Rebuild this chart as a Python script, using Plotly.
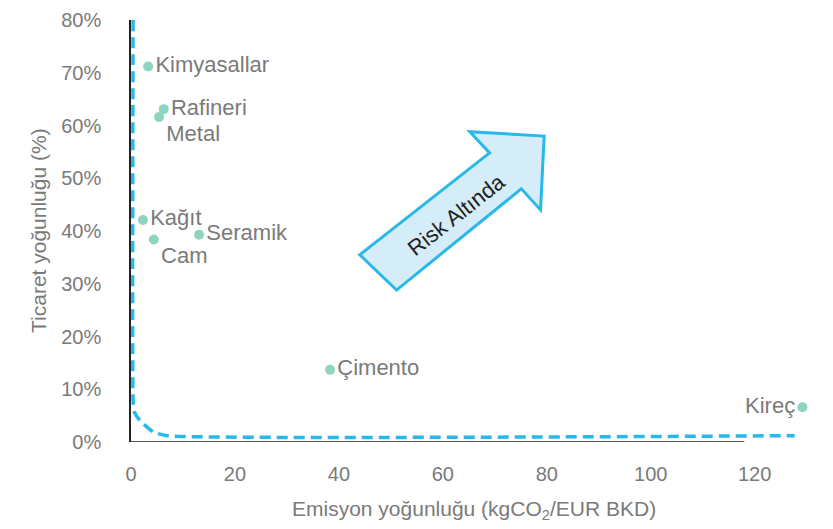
import plotly.graph_objects as go

# ---- data ----
sectors = ["Kimyasallar", "Rafineri", "Metal", "Kağıt", "Cam", "Seramik", "Çimento", "Kireç"]
emission = [3.3, 6.3, 5.4, 2.3, 4.4, 13.1, 38.3, 129.2]
trade = [71.2, 63.1, 61.6, 42.1, 38.4, 39.3, 13.7, 6.6]

threshold_x = [0.4, 0.4, 0.6, 1.7, 4.3, 6.9, 127.7]
threshold_y = [80.0, 7.9, 5.8, 4.1, 1.9, 1.2, 1.2]

x_ticks = [0, 20, 40, 60, 80, 100, 120]
y_ticks = [0, 10, 20, 30, 40, 50, 60, 70, 80]
y_tick_text = [f"{v}%" for v in y_ticks]

label_pos = ["middle right", "middle right", "bottom right", "middle right",
             "bottom right", "middle right", "middle right", "middle left"]

FONT = "Liberation Sans, Arial, sans-serif"
GREY = "#7a7a7a"
CYAN = "#29b8ea"

fig = go.Figure()

fig.add_trace(go.Scatter(
    x=threshold_x, y=threshold_y, mode="lines",
    line=dict(color=CYAN, width=3.5, dash="11px,6px", shape="spline", smoothing=0.5),
    hoverinfo="skip", showlegend=False, cliponaxis=False,
))

fig.add_trace(go.Scatter(
    x=emission, y=trade, mode="markers+text",
    text=sectors, textposition=label_pos,
    textfont=dict(family=FONT, size=22, color=GREY),
    marker=dict(color="#8fd4c1", size=10),
    showlegend=False, cliponaxis=False,
))

# arrow shape (decoration)
arrow = [(44.0, 35.5), (51.1, 28.8), (75.1, 48.0), (78.8, 44.0),
         (79.5, 58.0), (65.2, 58.8), (69.0, 54.8)]
path = "M " + " L ".join(f"{x},{y}" for x, y in arrow) + " Z"
fig.add_shape(type="path", path=path, xref="x", yref="y",
              fillcolor="#d5edf8", line=dict(color=CYAN, width=3))
fig.add_annotation(x=62.7, y=43.1, text="Risk Altında", showarrow=False,
                   textangle=-38.4,
                   font=dict(family=FONT, size=22, color="#231f20"))

# x axis line (shorter than plot range)
fig.add_shape(type="line", xref="x", yref="y", x0=0, x1=118, y0=0, y1=0,
              line=dict(color="#222222", width=1.5))

# axis titles
fig.add_annotation(xref="paper", yref="paper", x=0.5, y=0, yshift=-68,
                   xanchor="center", yanchor="middle", showarrow=False,
                   text="Emisyon yoğunluğu (kgCO<sub>2</sub>/EUR BKD)",
                   font=dict(family=FONT, size=21, color=GREY))
fig.add_annotation(xref="paper", yref="paper", x=0, y=0.5, xshift=-93,
                   xanchor="center", yanchor="middle", showarrow=False,
                   textangle=-90, text="Ticaret yoğunluğu (%)",
                   font=dict(family=FONT, size=21, color=GREY))

fig.update_layout(
    width=825, height=521,
    margin=dict(l=123, r=16, t=12, b=87),
    plot_bgcolor="white", paper_bgcolor="white",
    font=dict(family=FONT, color=GREY),
    xaxis=dict(range=[0, 132], tickvals=x_ticks, showgrid=False, zeroline=False,
               showline=False, ticks="", tickfont=dict(size=20, color=GREY),
               automargin=False, ticklabelstandoff=18, ticklabeloverflow="allow"),
    yaxis=dict(range=[0, 80], tickvals=y_ticks, ticktext=y_tick_text,
               showgrid=False, zeroline=False, showline=True,
               linecolor="#222222", linewidth=1.5, ticks="",
               automargin=False, ticklabeloverflow="allow",
               tickfont=dict(size=20, color=GREY), ticklabelstandoff=24),
)

fig.write_html("out.html")
